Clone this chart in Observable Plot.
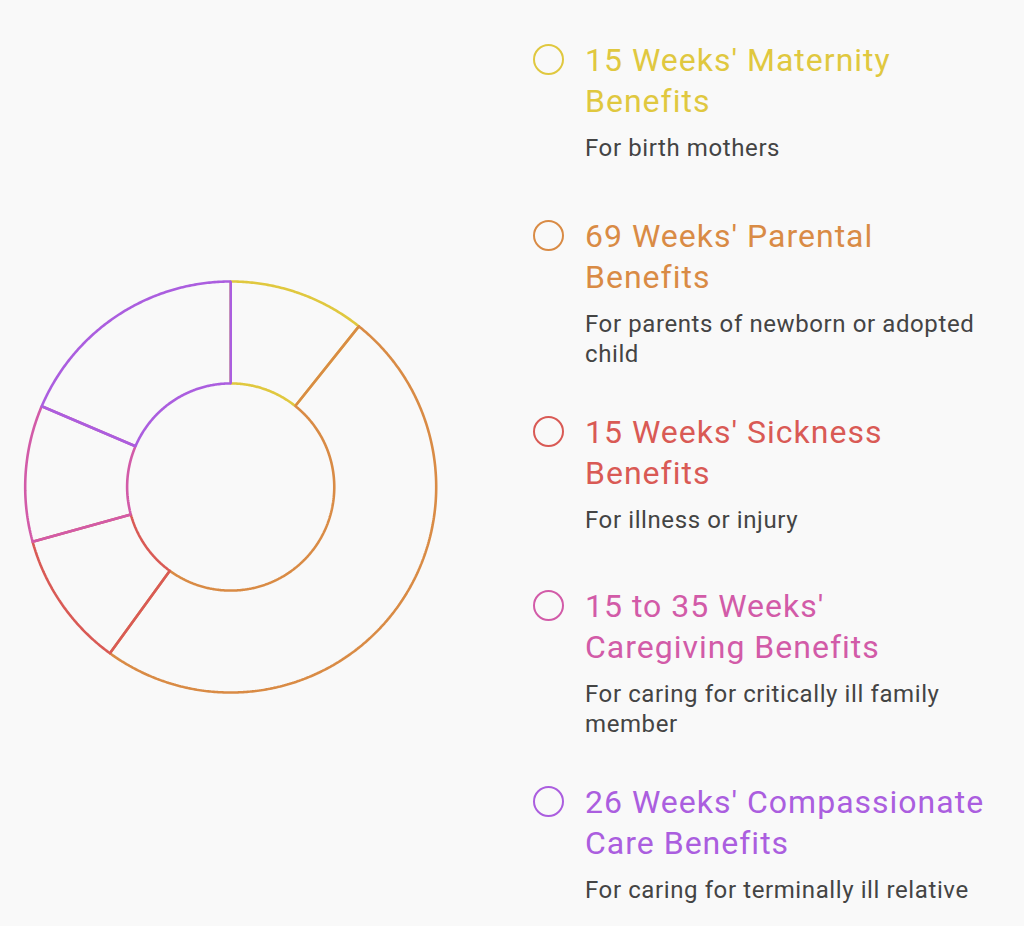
<!DOCTYPE html>
<html>
<head>
<meta charset="utf-8">
<script src="https://cdn.jsdelivr.net/npm/d3@7"></script>
<script src="https://cdn.jsdelivr.net/npm/@observablehq/plot@0.6"></script>
<style>
  html, body { margin: 0; padding: 0; background: #f9f9f9; width: 1024px; height: 926px; overflow: hidden; font-family: Roboto, "Noto Sans", sans-serif; }
  #chart { position: absolute; left: 0; top: 0; }
  .item { position: absolute; left: 533px; }
  .dot { position: absolute; left: 0; width: 27px; height: 27px; border-radius: 50%; border: 2.5px solid; box-sizing: content-box; }
  .title { position: absolute; left: 52px; font-size: 32px; letter-spacing: 1px; line-height: 41px; white-space: nowrap; }
  .sub { position: absolute; left: 52px; font-size: 24px; letter-spacing: 0.6px; line-height: 30px; color: #444; white-space: nowrap; }
</style>
</head>
<body>
<div id="chart"></div>
<div id="legend"></div>
<script>
// Data
const categories = ["Maternity", "Parental", "Sickness", "Caregiving", "Compassionate Care"];
const weeks = [15, 69, 15, 15, 26];
const titleLines = [
  ["15 Weeks' Maternity", "Benefits"],
  ["69 Weeks' Parental", "Benefits"],
  ["15 Weeks' Sickness", "Benefits"],
  ["15 to 35 Weeks'", "Caregiving Benefits"],
  ["26 Weeks' Compassionate", "Care Benefits"]
];
const subtitleLines = [
  ["For birth mothers"],
  ["For parents of newborn or adopted", "child"],
  ["For illness or injury"],
  ["For caring for critically ill family", "member"],
  ["For caring for terminally ill relative"]
];

// Styles
const palette = ["#e0c83f", "#d98b45", "#d95a55", "#d25ba8", "#ab5edf"];
const innerRatio = 0.504;

// Build slice outlines from pie angles (angle from north, clockwise)
const pie = d3.pie().sort(null).value(d => d.w)(categories.map((c, i) => ({c, w: weeks[i]})));
const pts = [];
for (const s of pie) {
  const a0 = s.startAngle, a1 = s.endAngle;
  const n = Math.max(2, Math.ceil((a1 - a0) / (Math.PI / 360)));
  const ring = [];
  for (let k = 0; k <= n; k++) { const a = a0 + (a1 - a0) * k / n; ring.push([Math.sin(a), Math.cos(a)]); }
  for (let k = n; k >= 0; k--) { const a = a0 + (a1 - a0) * k / n; ring.push([innerRatio * Math.sin(a), innerRatio * Math.cos(a)]); }
  ring.push(ring[0]);
  for (const [x, y] of ring) pts.push({name: s.data.c, x, y});
}

const cx = 230.2, cy = 486.5, R = 205.5;
const chart = Plot.plot({
  width: 460,
  height: 926,
  margin: 0,
  style: {background: "transparent", overflow: "visible"},
  x: {domain: [-1, 1], range: [cx - R, cx + R], axis: null},
  y: {domain: [-1, 1], range: [cy + R, cy - R], axis: null},
  color: {domain: categories, range: palette},
  marks: [
    Plot.line(pts, {x: "x", y: "y", z: "name", stroke: "name", strokeWidth: 2.6, strokeLinejoin: "miter", curve: "linear"})
  ]
});
document.getElementById("chart").appendChild(chart);

// Legend
const tops = [39, 215, 411, 585, 781];
const legend = document.getElementById("legend");
categories.forEach((c, i) => {
  const item = document.createElement("div");
  item.className = "item";
  item.style.top = tops[i] + "px";
  const dot = document.createElement("div");
  dot.className = "dot";
  dot.style.borderColor = palette[i];
  dot.style.top = "5px";
  item.appendChild(dot);
  const t = document.createElement("div");
  t.className = "title";
  t.style.top = "1px";
  t.style.color = palette[i];
  t.innerHTML = titleLines[i].join("<br>");
  item.appendChild(t);
  const s = document.createElement("div");
  s.className = "sub";
  s.style.top = "94px";
  s.innerHTML = subtitleLines[i].join("<br>");
  item.appendChild(s);
  legend.appendChild(item);
});
</script>
</body>
</html>
